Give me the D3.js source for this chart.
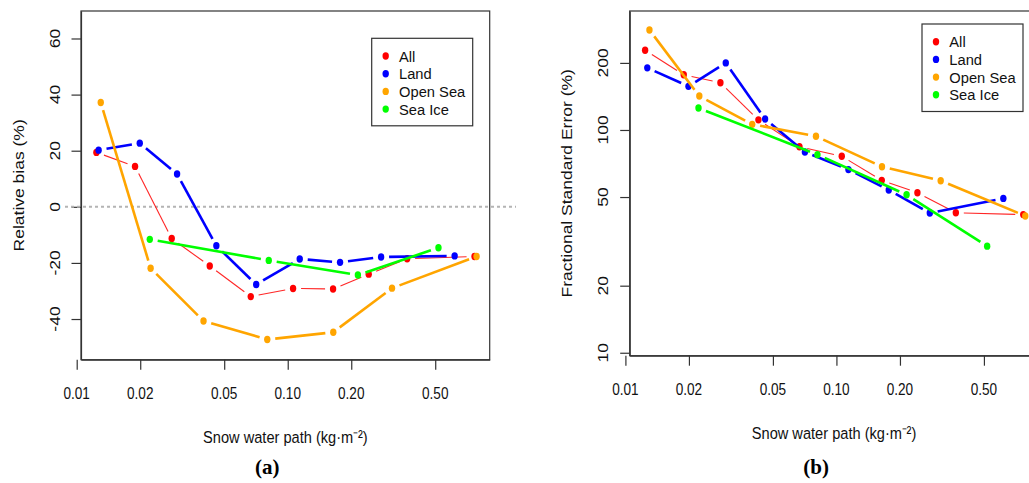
<html>
<head>
<title>Snow water path bias and error</title>
<script src="https://cdnjs.cloudflare.com/ajax/libs/d3/7.8.5/d3.min.js"></script>
<style>
  body { margin: 0; background: #fff; }
  svg { display: block; font-family: "Liberation Sans", Arial, sans-serif; }
</style>
</head>
<body>
<svg width="1029" height="483"></svg>
<script>
// series names and colours
var seriesNames = ["All", "Land", "Open Sea", "Sea Ice"];
var seriesColors = ["#ff0000", "#0000ff", "#ffa500", "#00ff00"];

// snow water path bin centres (kg m-2), per series
var swpAll = [0.0124, 0.0189, 0.0282, 0.0427, 0.0668, 0.106, 0.164, 0.242, 0.368, 0.768];
var swpLand = [0.0127, 0.0199, 0.0299, 0.0459, 0.0709, 0.114, 0.177, 0.277, 0.618];
var swpOpenSea = [0.0130, 0.0224, 0.0399, 0.080, 0.1644, 0.312, 0.785];
var swpSeaIce = [0.0222, 0.0813, 0.215, 0.518];

// (a) relative bias (%)
var biasAll = [19.4, 14.4, -11.3, -21.1, -32.0, -29.1, -29.3, -24.0, -18.5, -17.7];
var biasLand = [20.2, 22.7, 11.7, -13.9, -27.7, -18.6, -19.8, -17.9, -17.5];
var biasOpenSea = [37.2, -21.9, -40.7, -47.3, -44.7, -29.0, -17.7];
var biasSeaIce = [-11.6, -19.1, -24.3, -14.6];

// (b) fractional standard error (%)
var fseAll = [228, 177, 163, 111, 84.1, 76.2, 59.4, 52.3, 42.5, 41.7];
var fseLand = [190, 157, 200, 112, 79.6, 66.4, 53.8, 42.4, 49.3];
var fseOpenSea = [281, 142, 106, 93.7, 68.4, 59.2, 41.1];
var fseSeaIce = [125.5, 77.5, 51.2, 30.1];

// ticks
var xTicks = [0.01, 0.02, 0.05, 0.1, 0.2, 0.5];
var xTickLabels = ["0.01", "0.02", "0.05", "0.10", "0.20", "0.50"];
var biasTicks = [-40, -20, 0, 20, 40, 60];
var fseTicks = [10, 20, 50, 100, 200];

var xTitle = "Snow water path (kg\u00b7m\u207b\u00b2)";
var swp = [swpAll, swpLand, swpOpenSea, swpSeaIce];

var svg = d3.select("svg");

// text squeezed sideways like the original figure
function hText(g, x, y, str, size, sx, anchor) {
    return g.append("text")
        .attr("transform", "translate(" + x + "," + y + ") scale(" + sx + ",1)")
        .attr("text-anchor", anchor || "middle")
        .attr("dominant-baseline", "central")
        .attr("font-size", size)
        .attr("fill", "#111")
        .text(str);
}
function vText(g, x, y, str, size, sy) {
    return g.append("text")
        .attr("transform", "translate(" + x + "," + y + ") rotate(-90) scale(1," + sy + ")")
        .attr("text-anchor", "middle")
        .attr("dominant-baseline", "central")
        .attr("font-size", size)
        .attr("fill", "#111")
        .text(str);
}

function panel(p) {
    var g = svg.append("g");
    var x = d3.scaleLog().domain([0.01048, 0.906]).range([p.left, p.right]);
    var y = p.y;
    var bottom = y.range()[0], top = y.range()[1];

    // box
    g.append("rect")
        .attr("x", p.left).attr("y", top)
        .attr("width", p.right - p.left).attr("height", bottom - top)
        .attr("fill", "none").attr("stroke", "#333").attr("stroke-width", 1.2);

    // x axis
    var xa = g.append("g").attr("transform", "translate(0," + bottom + ")")
        .call(d3.axisBottom(x).tickValues(xTicks).tickFormat("").tickSize(10).tickSizeOuter(0));
    xa.select(".domain").attr("stroke", "#333").attr("stroke-width", 1.2);
    xa.selectAll(".tick line").attr("stroke", "#333").attr("stroke-width", 1.2);
    xTicks.forEach(function (t, i) {
        hText(g, x(t), bottom + 33, xTickLabels[i], 17, 0.8);
    });

    // y axis
    var ya = g.append("g").attr("transform", "translate(" + p.left + ",0)")
        .call(d3.axisLeft(y).tickValues(p.ticks).tickFormat("").tickSize(9.5).tickSizeOuter(0));
    ya.select(".domain").attr("stroke", "#333").attr("stroke-width", 1.2);
    ya.selectAll(".tick line").attr("stroke", "#333").attr("stroke-width", 1.2);
    p.ticks.forEach(function (t) {
        vText(g, p.left - 27, y(t), String(t), 17.5, 0.88);
    });

    // titles
    hText(g, (p.left + p.right) / 2, bottom + 77, xTitle, 17, 0.86);
    vText(g, p.left - 63, (top + bottom) / 2, p.yTitle, 17.5, 0.88);
    g.append("text")
        .attr("x", (p.left + p.right) / 2 - 18).attr("y", 474)
        .attr("text-anchor", "middle")
        .attr("font-family", "'Liberation Serif', 'Times New Roman', serif")
        .attr("font-weight", "bold").attr("font-size", 21)
        .attr("fill", "#000")
        .text(p.tag);

    if (p.zero) {
        g.append("line")
            .attr("x1", 65).attr("x2", 516)
            .attr("y1", y(0)).attr("y2", y(0))
            .attr("stroke", "#b4b4b4").attr("stroke-width", 2)
            .attr("stroke-dasharray", "3,3");
    }

    // series, type "b": lines with gaps around the points
    var gap = 8;
    p.values.forEach(function (vals, s) {
        var pts = vals.map(function (v, i) { return [x(swp[s][i]), y(v)]; });
        var segs = d3.pairs(pts).filter(function (d) {
            return Math.hypot(d[1][0] - d[0][0], d[1][1] - d[0][1]) > 2 * gap;
        });
        g.append("g").selectAll("line").data(segs).enter().append("line")
            .attr("x1", function (d) { var l = Math.hypot(d[1][0] - d[0][0], d[1][1] - d[0][1]); return d[0][0] + (d[1][0] - d[0][0]) * gap / l; })
            .attr("y1", function (d) { var l = Math.hypot(d[1][0] - d[0][0], d[1][1] - d[0][1]); return d[0][1] + (d[1][1] - d[0][1]) * gap / l; })
            .attr("x2", function (d) { var l = Math.hypot(d[1][0] - d[0][0], d[1][1] - d[0][1]); return d[1][0] - (d[1][0] - d[0][0]) * gap / l; })
            .attr("y2", function (d) { var l = Math.hypot(d[1][0] - d[0][0], d[1][1] - d[0][1]); return d[1][1] - (d[1][1] - d[0][1]) * gap / l; })
            .attr("stroke", seriesColors[s])
            .attr("stroke-opacity", s == 0 ? 0.85 : 1)
            .attr("stroke-width", s == 0 ? 1.1 : 2.6)
            .attr("stroke-linecap", "butt");
        g.append("g").selectAll("ellipse").data(pts).enter().append("ellipse")
            .attr("cx", function (d) { return d[0]; })
            .attr("cy", function (d) { return d[1]; })
            .attr("rx", 3.2).attr("ry", 3.7)
            .attr("fill", seriesColors[s]);
    });

    // legend
    var lg = g.append("g").attr("transform", "translate(" + p.legend[0] + "," + p.legend[1] + ")");
    lg.append("rect").attr("width", 101).attr("height", 87.5)
        .attr("fill", "#fff").attr("stroke", "#333").attr("stroke-width", 1.2);
    seriesNames.forEach(function (name, i) {
        lg.append("ellipse").attr("cx", 14).attr("cy", 17.7 + i * 17.7)
            .attr("rx", 3.2).attr("ry", 3.7).attr("fill", seriesColors[i]);
        hText(lg, 27.3, 17.7 + i * 17.7, name, 15.5, 0.95, "start");
    });
}

panel({
    left: 81, right: 489.7,
    y: d3.scaleLinear().domain([-54.5, 69.8]).range([359.7, 11]),
    ticks: biasTicks,
    yTitle: "Relative bias (%)",
    values: [biasAll, biasLand, biasOpenSea, biasSeaIce],
    legend: [371.7, 38.3],
    zero: true,
    tag: "(a)"
});

panel({
    left: 629.7, right: 1038.4,
    y: d3.scaleLog().domain([9.7, 342]).range([355.7, 11]),
    ticks: fseTicks,
    yTitle: "Fractional Standard Error (%)",
    values: [fseAll, fseLand, fseOpenSea, fseSeaIce],
    legend: [922, 24],
    zero: false,
    tag: "(b)"
});
</script>
</body>
</html>
